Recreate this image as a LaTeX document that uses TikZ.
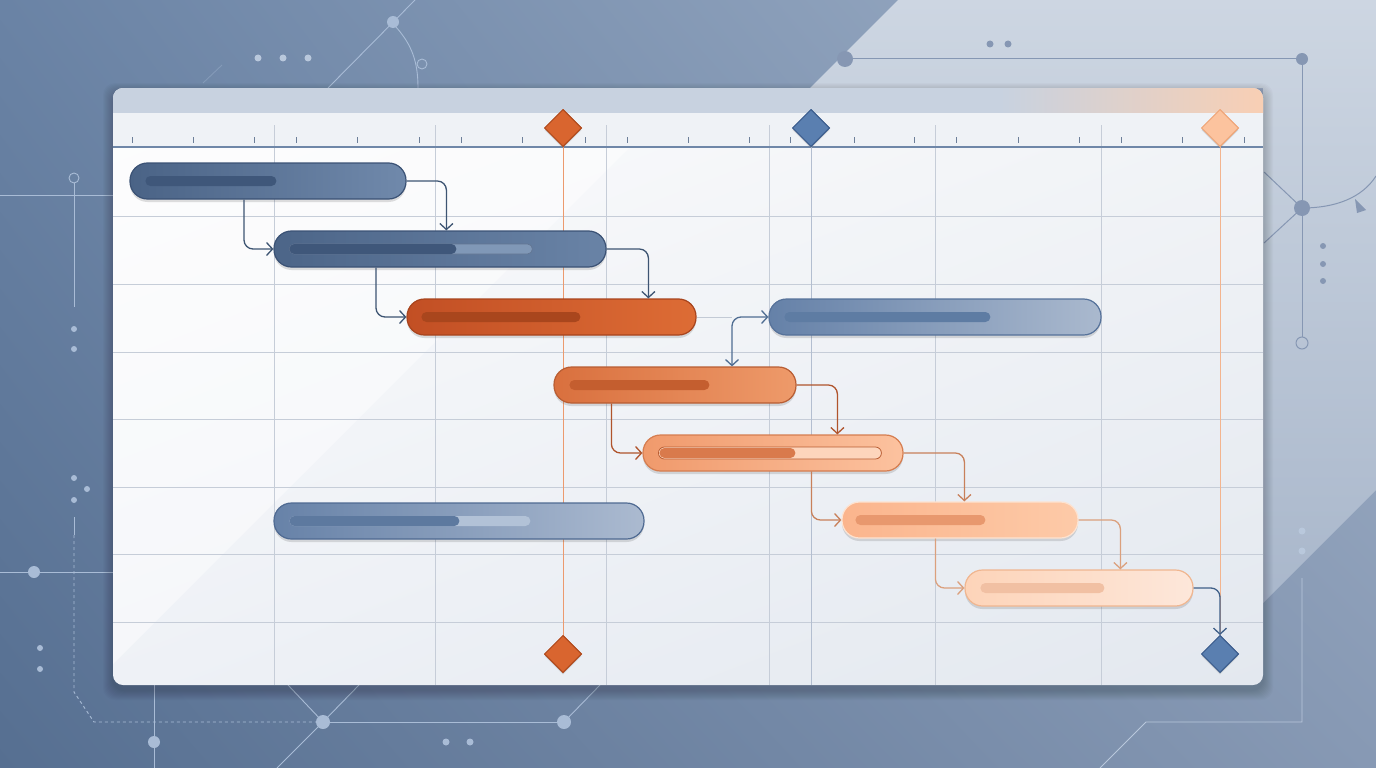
\documentclass[tikz,border=0pt]{standalone}
\usetikzlibrary{arrows.meta,shapes.geometric,shadows,calc,shadings}
\definecolor{bgUL}{HTML}{6A83A5}
\definecolor{bgUR}{HTML}{A2B2C8}
\definecolor{bgLL}{HTML}{566F91}
\definecolor{bgLR}{HTML}{8799B4}
\definecolor{bandT}{HTML}{CDD6E2}
\definecolor{bandB}{HTML}{A9B7CB}
\definecolor{decoC}{HTML}{A9BCD6}
\definecolor{decoD}{HTML}{8697B3}
\definecolor{decoE}{HTML}{B9C8DC}
\definecolor{hdrA}{HTML}{C8D2E0}
\definecolor{hdrP}{HTML}{F8CFB4}
\definecolor{rulerbg}{HTML}{EFF2F6}
\definecolor{rulerln}{HTML}{6F87A8}
\definecolor{tickc}{HTML}{6D7F99}
\definecolor{gridc}{HTML}{C6CDD8}
\definecolor{msOr}{HTML}{D9652F}
\definecolor{msOrD}{HTML}{B24D20}
\definecolor{msBl}{HTML}{5A7FB0}
\definecolor{msBlD}{HTML}{3F6090}
\definecolor{msPe}{HTML}{FCC39E}
\definecolor{msPeD}{HTML}{EFA87C}
\definecolor{lnOr}{HTML}{EC9A6E}
\definecolor{lnPe}{HTML}{F3B48E}
\definecolor{lnBl}{HTML}{B3BED0}
\definecolor{cA}{HTML}{3D5472}
\definecolor{cB}{HTML}{4F6D92}
\definecolor{cC}{HTML}{B0542C}
\definecolor{cD}{HTML}{C8805A}
\definecolor{cE}{HTML}{DBA07D}
\definecolor{cF}{HTML}{3F5F88}
\definecolor{cG}{HTML}{C3CAD5}
\definecolor{pnUL}{HTML}{FDFDFE}
\definecolor{pnUR}{HTML}{F2F4F7}
\definecolor{pnLL}{HTML}{EEF1F6}
\definecolor{pnLR}{HTML}{E3E8EF}
% bars
\definecolor{bAl}{HTML}{4A6386}\definecolor{bAr}{HTML}{7089AB}\definecolor{bAd}{HTML}{3B5275}
\definecolor{bBl}{HTML}{4C6588}\definecolor{bBr}{HTML}{6983A6}
\definecolor{bCl}{HTML}{C24F24}\definecolor{bCr}{HTML}{DD6C35}\definecolor{bCd}{HTML}{A8441D}
\definecolor{bDl}{HTML}{6581A8}\definecolor{bDr}{HTML}{AAB9CE}\definecolor{bDd}{HTML}{56729A}
\definecolor{bEl}{HTML}{D9703E}\definecolor{bEr}{HTML}{EE9A6A}\definecolor{bEd}{HTML}{B85D33}
\definecolor{bFl}{HTML}{F09A6C}\definecolor{bFr}{HTML}{FCC29F}\definecolor{bFd}{HTML}{D57D50}
\definecolor{bGl}{HTML}{FBB58D}\definecolor{bGr}{HTML}{FDCAA8}\definecolor{bGd}{HTML}{FDE3D1}
\definecolor{bHl}{HTML}{FDD4B9}\definecolor{bHr}{HTML}{FDE7DA}\definecolor{bHd}{HTML}{F0B690}
\definecolor{bIl}{HTML}{6782A8}\definecolor{bIr}{HTML}{ABBAD0}\definecolor{bId}{HTML}{4F6A92}
\definecolor{pA}{HTML}{3F577A}
\definecolor{pBt}{HTML}{8098B7}
\definecolor{pC}{HTML}{A9461D}
\definecolor{pD}{HTML}{5E7CA3}
\definecolor{pE}{HTML}{C45E2F}
\definecolor{pF}{HTML}{D97A4C}
\definecolor{pFt}{HTML}{FDD5BC}
\definecolor{pG}{HTML}{E8986E}
\definecolor{pH}{HTML}{F1C0A3}
\definecolor{pI}{HTML}{5D799F}
\definecolor{pIt}{HTML}{B2C2D7}
\newcommand\progfill[4]{\fill[#4, rounded corners=5pt] ([xshift=#2pt,yshift=-5pt]#1.west) rectangle ([xshift=#3pt,yshift=5pt]#1.west);}
\begin{document}
\begin{tikzpicture}[x=1pt,y=-1pt,
  deco/.style={draw=decoC, line width=0.9pt},
  decoR/.style={draw=decoD, line width=1pt},
  grid/.style={draw=gridc, line width=0.9pt},
  bar/.style={rectangle, rounded corners=17.5pt, minimum height=36pt, inner sep=0pt, line width=1.2pt,
     drop shadow={opacity=0.18, shadow xshift=0pt, shadow yshift=-3pt, fill=black!70}},
  ms/.style={diamond, aspect=1, minimum width=37pt, minimum height=37pt, inner sep=0pt, line width=1pt,
     drop shadow={opacity=0.15, shadow xshift=0pt, shadow yshift=-2pt}},
  tip/.tip={Straight Barb[length=6pt,width=13pt]},
  conn/.style={line width=1.3pt, rounded corners=9pt, -tip},
]
\useasboundingbox (0,0) rectangle (1376,768);
% ---------- background ----------
\shade[upper left=bgUL, upper right=bgUR, lower left=bgLL, lower right=bgLR] (0,0) rectangle (1376,768);
\shade[top color=bandT, bottom color=bandB] (898,0) -- (1376,0) -- (1376,490) -- (1263,603) -- (1263,88) -- (810,88) -- cycle;
% decorations top-left
\draw[deco] (328,88) -- (415,0);
\draw[deco] (396,27) .. controls (412,45) and (418,62) .. (418,88);
\fill[decoC] (393,22) circle (6);
\draw[deco, fill=bgUL!70!bgUR] (422,64) circle (5);
\draw[deco, opacity=0.35] (203,83) -- (222,65);
\foreach \x in {258,283,308} \fill[decoE] (\x,58) circle (3.5);
% decorations left
\draw[deco] (0,195) -- (113,195);
\draw[deco] (74,183) -- (74,307);
\draw[deco] (74,178) circle (5);
\foreach \y in {329,349} \fill[decoC] (74,\y) circle (3);
\fill[decoC] (74,478) circle (3); \fill[decoC] (87,489) circle (3); \fill[decoC] (74,500) circle (3);
\draw[deco] (74,517) -- (74,535);
\draw[deco, dash pattern=on 3pt off 3pt] (74,535) -- (74,692) -- (94,722) -- (316,722);
\draw[deco] (323,722) -- (564,722);
\draw[deco] (288,685) -- (323,722) -- (359,685);
\draw[deco] (323,722) -- (277,768);
\draw[deco] (564,722) -- (600,685);
\fill[decoC] (323,722) circle (7);
\fill[decoC] (564,722) circle (7);
\draw[deco] (0,572) -- (113,572);
\fill[decoC] (34,572) circle (6);
\foreach \y in {648,669} \fill[decoC] (40,\y) circle (3);
\draw[deco] (154,685) -- (154,768);
\fill[decoC] (154,742) circle (6);
\foreach \x in {446,470} \fill[decoC] (\x,742) circle (3.5);
% decorations right
\draw[decoR] (845,59) -- (1302,59);
\fill[decoD] (845,59) circle (8);
\fill[decoD] (1302,59) circle (6);
\foreach \x in {990,1008} \fill[decoD] (\x,44) circle (3.5);
\draw[decoR] (1302,59) -- (1302,337);
\draw[decoR] (1302,343) circle (6);
\draw[decoR] (1264,172) -- (1302,208) -- (1264,243);
\draw[decoR] (1302,208) .. controls (1335,208) and (1362,198) .. (1376,176);
\fill[decoD] (1302,208) circle (8);
\fill[decoD] (1355,199) -- (1366,210) -- (1357,213) -- cycle;
\foreach \y in {246,264,281} \fill[decoD] (1323,\y) circle (3);
\foreach \y in {531,551} \fill[decoE] (1302,\y) circle (3.5);
\draw[draw=decoE, line width=0.9pt] (1302,578) -- (1302,722) -- (1146,722) -- (1100,768);
% ---------- panel ----------
\foreach \i in {1,...,10}
  \fill[black, opacity=0.02, rounded corners=12pt] ({113-\i},{88-\i+5}) rectangle ({1263+\i},{685+\i+5});
\shade[rounded corners=10pt, upper left=pnUL, upper right=pnUR, lower left=pnLL, lower right=pnLR] (113,88) rectangle (1263,685);
\begin{scope}
\clip[rounded corners=10pt] (113,88) rectangle (1263,685);
\fill[white, opacity=0.45] (113,147) -- (630,147) -- (113,664) -- cycle;
\fill[hdrA] (113,88) rectangle (1263,113);
\shade[left color=hdrA, right color=hdrP] (1000,88) rectangle (1263,113);
\fill[rulerbg] (113,113) rectangle (1263,147);
\end{scope}
% grid
\foreach \y in {216,284,352,419,487,554,622} \draw[grid] (113,\y) -- (1263,\y);
\foreach \x in {274,435,606,769,935,1101} \draw[grid] (\x,125) -- (\x,685);
\foreach \x in {132,193,254,296,357,419,461,522,585,627,688,749,790,854,914,956,1018,1079,1121,1182,1244}
  \draw[tickc, line width=0.9pt] (\x,137) -- (\x,143);
\draw[rulerln, line width=1.6pt] (113,147) -- (1263,147);
% ---------- milestones (nodes) ----------
\node[ms, fill=msOr, draw=msOrD] (m1) at (563,128) {};
\node[ms, fill=msBl, draw=msBlD] (m2) at (811,128) {};
\node[ms, fill=msPe, draw=msPeD] (m3) at (1220,128) {};
\node[ms, fill=msOr, draw=msOrD] (m5) at (563,654) {};
\node[ms, fill=msBl, draw=msBlD] (m4) at (1220,654) {};
\coordinate (m2end) at (811,685);
% milestone lines
\draw[lnOr, line width=1pt] (m1.south) -- (m5.north);
\draw[lnBl, line width=1pt] (m2.south) -- (m2end);
\draw[lnPe, line width=1pt] (m3.south) -- (m4.north);
% ---------- bars ----------
\node[bar, minimum width=276pt, left color=bAl, right color=bAr, draw=bAd] (b1) at (268,181) {};
\node[bar, minimum width=332pt, left color=bBl, right color=bBr, draw=bAd] (b2) at (440,249) {};
\node[bar, minimum width=289pt, left color=bCl, right color=bCr, draw=bCd] (b3) at (551.5,317) {};
\node[bar, minimum width=332pt, left color=bDl, right color=bDr, draw=bDd] (b4) at (935,317) {};
\node[bar, minimum width=242pt, left color=bEl, right color=bEr, draw=bEd] (b5) at (675,385) {};
\node[bar, minimum width=260pt, left color=bFl, right color=bFr, draw=bFd] (b6) at (773,453) {};
\node[bar, minimum width=236pt, left color=bGl, right color=bGr, draw=bGd] (b7) at (960,520) {};
\node[bar, minimum width=228pt, left color=bHl, right color=bHr, draw=bHd] (b8) at (1079,588) {};
\node[bar, minimum width=370pt, left color=bIl, right color=bIr, draw=bId] (b9) at (459,521) {};
% progress
\progfill{b1}{16}{147}{pA}
\fill[pBt, draw=bAd!80, line width=0.6pt, rounded corners=5pt] ([xshift=16pt,yshift=-5pt]b2.west) rectangle ([xshift=259pt,yshift=5pt]b2.west);
\progfill{b2}{16}{183}{pA}
\progfill{b3}{15}{174}{pC}
\progfill{b4}{16}{222}{pD}
\progfill{b5}{16}{156}{pE}
\fill[pFt, draw=bEd, line width=0.8pt, rounded corners=6pt] ([xshift=16pt,yshift=-6pt]b6.west) rectangle ([xshift=239pt,yshift=6pt]b6.west);
\fill[pF, rounded corners=5pt] ([xshift=17pt,yshift=-5pt]b6.west) rectangle ([xshift=153pt,yshift=5pt]b6.west);
\progfill{b7}{14}{144}{pG}
\progfill{b8}{16}{140}{pH}
\progfill{b9}{16}{257}{pIt}
\progfill{b9}{16}{186}{pI}
% ---------- connectors ----------
\coordinate (j) at (732,317);
\draw[conn, cA] (b1.east) -| ([xshift=173pt]b2.north west);
\draw[conn, cA] ([xshift=-24pt]b1.south) |- (b2.west);
\draw[conn, cA] (b2.east) -| ([xshift=242pt]b3.north west);
\draw[conn, cA] ([xshift=-64pt]b2.south) |- (b3.west);
\draw[cG, line width=1pt] (b3.east) -- (j);
\draw[conn, cB, tip-tip] (b5.north -| j) |- (b4.west);
\draw[conn, cC] ([xshift=58pt]b5.south west) |- (b6.west);
\draw[conn, cC] (b5.east) -| ([xshift=195pt]b6.north west);
\draw[conn, cD] (b6.east) -| ([xshift=123pt]b7.north west);
\draw[conn, cD] ([xshift=169pt]b6.south west) |- (b7.west);
\draw[conn, cE] (b7.east) -| ([xshift=156pt]b8.north west);
\draw[conn, cE] ([xshift=94pt]b7.south west) |- (b8.west);
\draw[conn, cF] (b8.east) -| (m4.north);
% redraw milestones on top
\node[ms, fill=msOr, draw=msOrD] at (m1) {};
\node[ms, fill=msBl, draw=msBlD] at (m2) {};
\node[ms, fill=msPe, draw=msPeD] at (m3) {};
\node[ms, fill=msOr, draw=msOrD] at (m5) {};
\node[ms, fill=msBl, draw=msBlD] at (m4) {};
\end{tikzpicture}
\end{document}
